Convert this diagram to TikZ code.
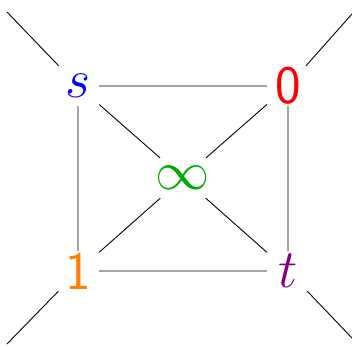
\documentclass[tikz,border=0pt]{standalone}
\usepackage{graphicx}
\tikzset{
  vert/.style={rectangle, inner sep=0pt, minimum width=42pt, minimum height=40pt},
  edge/.style={draw=black, line width=0.9pt},
}
\newcommand{\bigtxt}[1]{\scalebox{2.18}{\Huge #1}}
\definecolor{sblue}{RGB}{0,0,255}
\definecolor{zred}{RGB}{255,0,0}
\definecolor{igreen}{RGB}{0,170,0}
\definecolor{oorange}{RGB}{255,128,0}
\definecolor{tpurple}{RGB}{128,0,128}
\begin{document}
\begin{tikzpicture}[x=1pt,y=-1pt]
\useasboundingbox (0,0) rectangle (352,345);
\node[vert, text=sblue] (s) at (78,86) {\bigtxt{$s$}};
\node[vert, text=zred] (z) at (288,86) {\bigtxt{\textsf{0}}};
\node[vert, text=igreen] (i) at (183,178) {\bigtxt{$\infty$}};
\node[vert, text=oorange] (o) at (78,271) {\bigtxt{\textsf{1}}};
\node[vert, text=tpurple] (t) at (288,271) {\bigtxt{$t$}};
\coordinate (tl) at (7,12);
\coordinate (tr) at (352,14);
\coordinate (bl) at (7,344);
\coordinate (br) at (352,338);
\path[edge] (s) -- (z) (s) -- (o) (z) -- (t) (o) -- (t)
  (s) -- (i) (z) -- (i) (o) -- (i) (t) -- (i)
  (s) -- (tl) (z) -- (tr) (o) -- (bl) (t) -- (br);
\end{tikzpicture}
\end{document}
